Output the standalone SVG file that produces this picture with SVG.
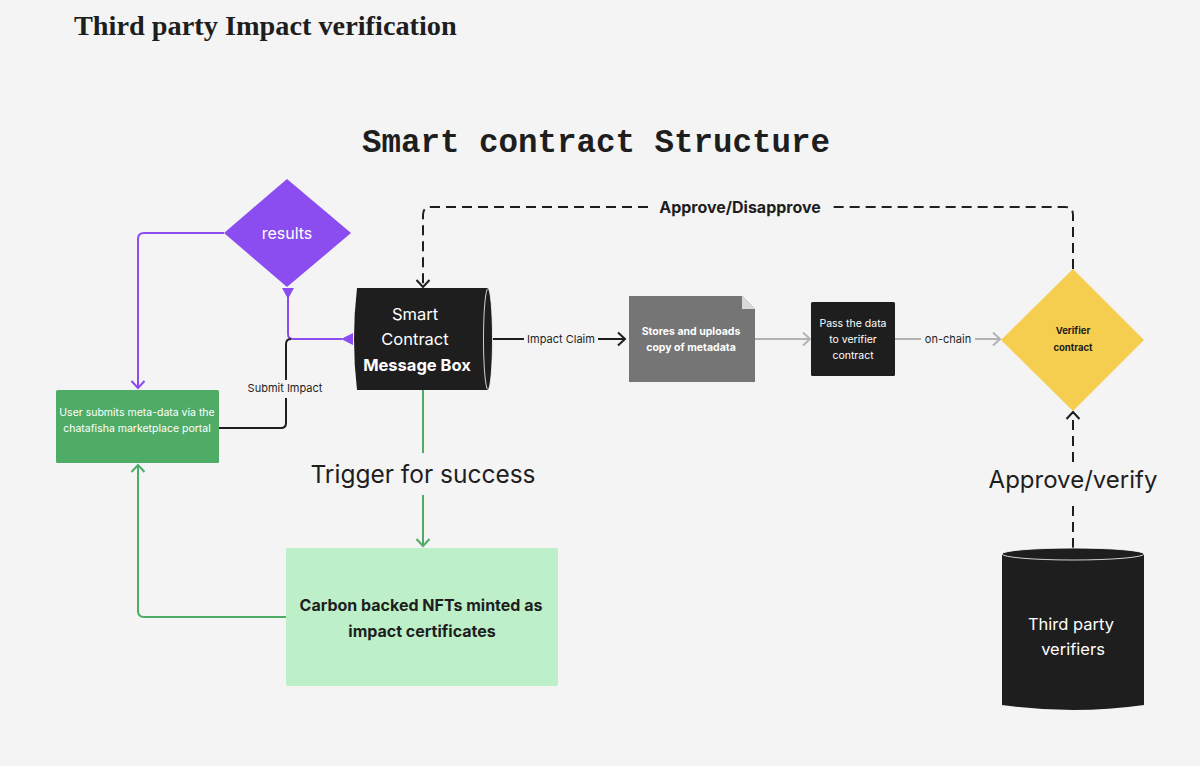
<svg xmlns="http://www.w3.org/2000/svg" width="1200" height="766" viewBox="0 0 1200 766">
<style>
.t{font-family:Inter,"Noto Sans","Liberation Sans",sans-serif;text-anchor:middle}
.w{fill:#ffffff}
.d{fill:#1e1e1e}
.b{font-weight:700}
.conn{fill:none;stroke-width:2}
</style>
<defs>
<marker id="aBlack" markerUnits="userSpaceOnUse" markerWidth="16" markerHeight="16" refX="10" refY="8" orient="auto"><path d="M3,1.5 L10,8 L3,14.5" fill="none" stroke="#1e1e1e" stroke-width="2"/></marker>
<marker id="aGray" markerUnits="userSpaceOnUse" markerWidth="16" markerHeight="16" refX="10" refY="8" orient="auto"><path d="M3,1.5 L10,8 L3,14.5" fill="none" stroke="#b3b3b3" stroke-width="2"/></marker>
<marker id="aGreen" markerUnits="userSpaceOnUse" markerWidth="16" markerHeight="16" refX="10" refY="8" orient="auto"><path d="M3,1.5 L10,8 L3,14.5" fill="none" stroke="#4fac67" stroke-width="2"/></marker>
<marker id="aPurple" markerUnits="userSpaceOnUse" markerWidth="16" markerHeight="16" refX="10" refY="8" orient="auto"><path d="M3,1.5 L10,8 L3,14.5" fill="none" stroke="#8b4cf0" stroke-width="2"/></marker>
</defs>
<rect width="1200" height="766" fill="#f4f4f4"/>
<text x="74" y="35" font-family="'Liberation Serif',serif" font-weight="700" font-size="28.3" fill="#1e1e1e">Third party Impact verification</text>
<text x="596" y="152" font-family="'Liberation Mono','DejaVu Sans Mono',monospace" font-weight="700" font-size="32.5" fill="#1e1e1e" text-anchor="middle">Smart contract Structure</text>

<g id="connectors">
  <path class="conn" stroke="#8b4cf0" d="M224,233 H144 Q138,233 138,239 V388" marker-end="url(#aPurple)"/>
  <path class="conn" stroke="#8b4cf0" d="M288,296 V334 Q288,339 293,339 H342"/>
  <polygon points="282,288 294,288 288,299" fill="#8b4cf0"/>
  <polygon points="341,339 353,333 353,345" fill="#8b4cf0"/>
  <path class="conn" stroke="#1e1e1e" d="M219,428 H281 Q286,428 286,423 V398 M286,380 V344 Q286,339 291,339"/>
  <text class="t d" x="285" y="392" font-size="11">Submit Impact</text>
  <path class="conn" stroke="#1e1e1e" d="M492,339 H524 M598,339 H625" marker-end="url(#aBlack)"/>
  <text class="t d" x="561" y="343" font-size="11">Impact Claim</text>
  <path class="conn" stroke="#b3b3b3" d="M755,339 H810" marker-end="url(#aGray)"/>
  <path class="conn" stroke="#b3b3b3" d="M895,339 H921 M975,339 H1000" marker-end="url(#aGray)"/>
  <text class="t d" x="948" y="343" font-size="11">on-chain</text>
  <path class="conn" stroke="#1e1e1e" stroke-dasharray="10,6" d="M1073,269 V215 Q1073,207 1065,207 H832 M648,207 H431 Q423,207 423,215 V287" marker-end="url(#aBlack)"/>
  <text class="t d b" x="740" y="213" font-size="16">Approve/Disapprove</text>
  <path class="conn" stroke="#1e1e1e" stroke-dasharray="10,6" d="M1073,548 V500 M1073,462 V412" marker-end="url(#aBlack)"/>
  <text class="t d" x="1073" y="488" font-size="24">Approve/verify</text>
  <path class="conn" stroke="#4fac67" d="M423,390 V453 M423,495 V546" marker-end="url(#aGreen)"/>
  <text class="t d" x="423" y="483" font-size="24.5">Trigger for success</text>
  <path class="conn" stroke="#4fac67" d="M286,617 H144 Q138,617 138,611 V465" marker-end="url(#aGreen)"/>
</g>

<g id="results">
  <polygon points="287,179 351,233 287,287 224,233" fill="#8b4cf0"/>
  <text class="t w" x="287" y="239" font-size="16">results</text>
</g>

<g id="user-submits">
  <rect x="56" y="390" width="163" height="73" rx="1.5" fill="#4fac67"/>
  <text class="t w" x="137" y="416" font-size="10.5">User submits meta-data via the</text>
  <text class="t w" x="137" y="432" font-size="10.5">chatafisha marketplace portal</text>
</g>

<g id="message-box">
  <path d="M357,288 H488 Q494,339 488,390 H357 Q351,339 357,288 Z" fill="#1e1e1e"/>
  <ellipse cx="488" cy="339" rx="4.5" ry="50.5" fill="#1e1e1e" stroke="#ffffff" stroke-width="0.8"/>
  <text class="t w" x="415" y="320" font-size="16.5">Smart</text>
  <text class="t w" x="415" y="345" font-size="16.5">Contract</text>
  <text class="t w b" x="417" y="371" font-size="16.5">Message Box</text>
</g>

<g id="stores-metadata">
  <path d="M629,296 H742 L755,309 V382 H629 Z" fill="#757575"/>
  <path d="M742,296 V309 H755 Z" fill="#d9d9d9"/>
  <text class="t w b" x="691" y="335" font-size="10.5">Stores and uploads</text>
  <text class="t w b" x="691" y="351" font-size="10.5">copy of metadata</text>
</g>

<g id="pass-data">
  <rect x="811" y="302" width="84" height="74" rx="1.5" fill="#1e1e1e"/>
  <text class="t w" x="853" y="327" font-size="10.5">Pass the data</text>
  <text class="t w" x="853" y="343" font-size="10.5">to verifier</text>
  <text class="t w" x="853" y="359" font-size="10.5">contract</text>
</g>

<g id="verifier-contract">
  <polygon points="1073,269 1144,340 1073,411 1001,340" fill="#f5cd4f"/>
  <text class="t d b" x="1073" y="334" font-size="9.5">Verifier</text>
  <text class="t d b" x="1073" y="351" font-size="9.5">contract</text>
</g>

<g id="third-party-verifiers">
  <path d="M1002,554 V705 Q1073,715 1144,705 V554 Z" fill="#1e1e1e"/>
  <ellipse cx="1073" cy="554" rx="71" ry="6" fill="#1e1e1e" stroke="#ffffff" stroke-width="0.8"/>
  <text class="t w" x="1071" y="630" font-size="16.5">Third party</text>
  <text class="t w" x="1073" y="655" font-size="16.5">verifiers</text>
</g>

<g id="nft-certificates">
  <rect x="286" y="548" width="272" height="138" rx="1.5" fill="#bdf0c8"/>
  <text class="t d b" x="421" y="611" font-size="16">Carbon backed NFTs minted as</text>
  <text class="t d b" x="422" y="637" font-size="16">impact certificates</text>
</g>
</svg>
